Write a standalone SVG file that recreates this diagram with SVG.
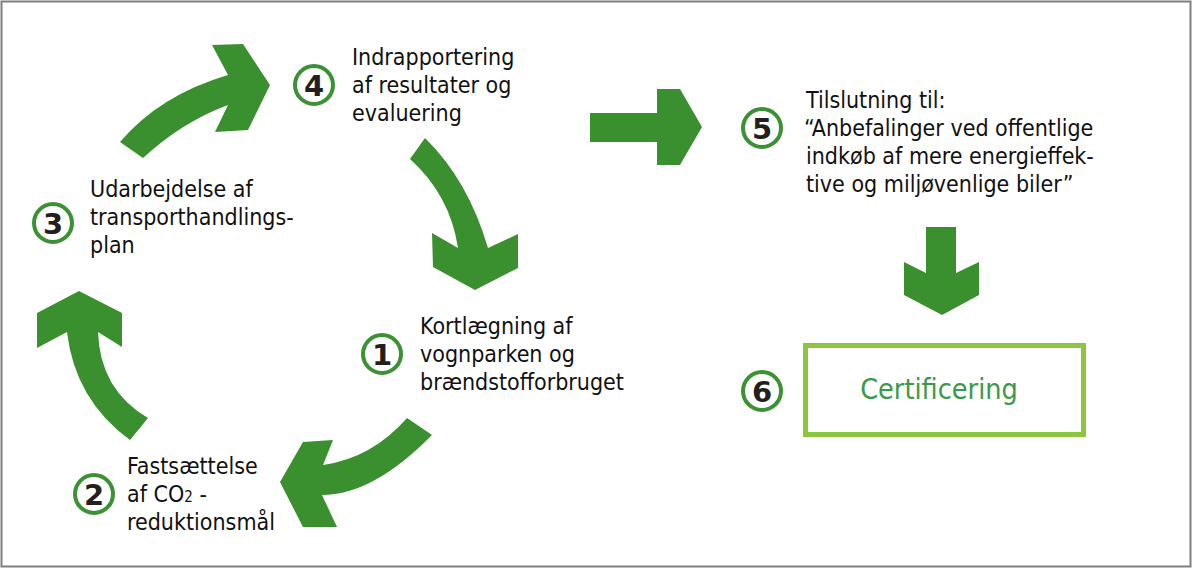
<svg xmlns="http://www.w3.org/2000/svg" width="1193" height="569" viewBox="0 0 1193 569">
<style>
.arrow{fill:#3a8f2e;stroke:none}
.badge{fill:#fff;stroke:#3b9134;stroke-width:4}
.num{font-family:"DejaVu Sans",Verdana,sans-serif;font-weight:bold;font-size:29px;fill:#231f20;text-anchor:middle}
.lbl{font-family:"DejaVu Sans Condensed","DejaVu Sans",sans-serif;font-stretch:condensed;font-size:23px;fill:#111}
.cert{font-family:"DejaVu Sans Condensed","DejaVu Sans",sans-serif;font-stretch:condensed;font-size:28.5px;fill:#3a9a48;text-anchor:middle}
</style>
<rect x="0" y="0" width="1193" height="569" fill="#fff"/>
<rect x="1.5" y="1.5" width="1189" height="565" fill="none" stroke="#7f7f7f" stroke-width="2"/>
<g id="connectors">
<path class="arrow" d="M120,142 Q160,95 228,75 L212,45 L243,44 L270,85 L248,130 L215,132 L228,105 Q182,122 143,158 Z"/>
<path class="arrow" d="M410,159 L425,138 Q468,180 488,248 L518,234 L518,268 L475,290 L433,267 L432,233 L458,248 Q450,195 410,159 Z"/>
<path class="arrow" d="M407,418 L432,435 Q373,495 322,495 L337,527 L303,527 L280,482 L303,442 L333,440 L323,465 Q372,458 407,418 Z"/>
<path class="arrow" d="M79,291 L122,313 L122,347 L98,332 Q100,390 148,418 L130,440 Q75,400 67,332 L37,348 L37,313 Z"/>
<path class="arrow" d="M590,113 L657,113 L657,89 L680,89 L702,127 L680,165 L657,165 L657,142 L590,142 Z"/>
<path class="arrow" d="M926,227 L956,227 L956,273 L979,262 L979,295 L942,315 L904,295 L904,262 L926,273 Z"/>
</g>
<g id="node1">
<circle class="badge" cx="382" cy="354" r="19"/>
<text class="num" x="382" y="364.5">1</text>
<text class="lbl" x="420" y="334">Kortlægning af</text>
<text class="lbl" x="420" y="362">vognparken og</text>
<text class="lbl" x="420" y="390">brændstofforbruget</text>
</g>
<g id="node2">
<circle class="badge" cx="94" cy="494" r="19"/>
<text class="num" x="94" y="504.5">2</text>
<text class="lbl" x="127" y="474">Fastsættelse</text>
<text class="lbl" x="127" y="502">af CO<tspan font-size="15px">2</tspan> -</text>
<text class="lbl" x="127" y="530">reduktionsmål</text>
</g>
<g id="node3">
<circle class="badge" cx="53" cy="223" r="19"/>
<text class="num" x="53" y="233.5">3</text>
<text class="lbl" x="90" y="197">Udarbejdelse af</text>
<text class="lbl" x="90" y="225">transporthandlings-</text>
<text class="lbl" x="90" y="253">plan</text>
</g>
<g id="node4">
<circle class="badge" cx="314" cy="85" r="19"/>
<text class="num" x="314" y="95.5">4</text>
<text class="lbl" x="352" y="65">Indrapportering</text>
<text class="lbl" x="352" y="93">af resultater og</text>
<text class="lbl" x="352" y="121">evaluering</text>
</g>
<g id="node5">
<circle class="badge" cx="762" cy="128" r="19"/>
<text class="num" x="762" y="138.5">5</text>
<text class="lbl" x="806" y="108">Tilslutning til:</text>
<text class="lbl" x="804" y="136">“Anbefalinger ved offentlige</text>
<text class="lbl" x="806" y="164">indkøb af mere energieffek-</text>
<text class="lbl" x="806" y="192">tive og miljøvenlige biler”</text>
</g>
<g id="node6">
<circle class="badge" cx="762" cy="391" r="19"/>
<text class="num" x="762" y="401.5">6</text>
<rect x="805.5" y="345.5" width="278" height="89" fill="#fff" stroke="#8cc63f" stroke-width="5"/>
<text class="cert" x="939" y="399">Certificering</text>
</g>
</svg>
